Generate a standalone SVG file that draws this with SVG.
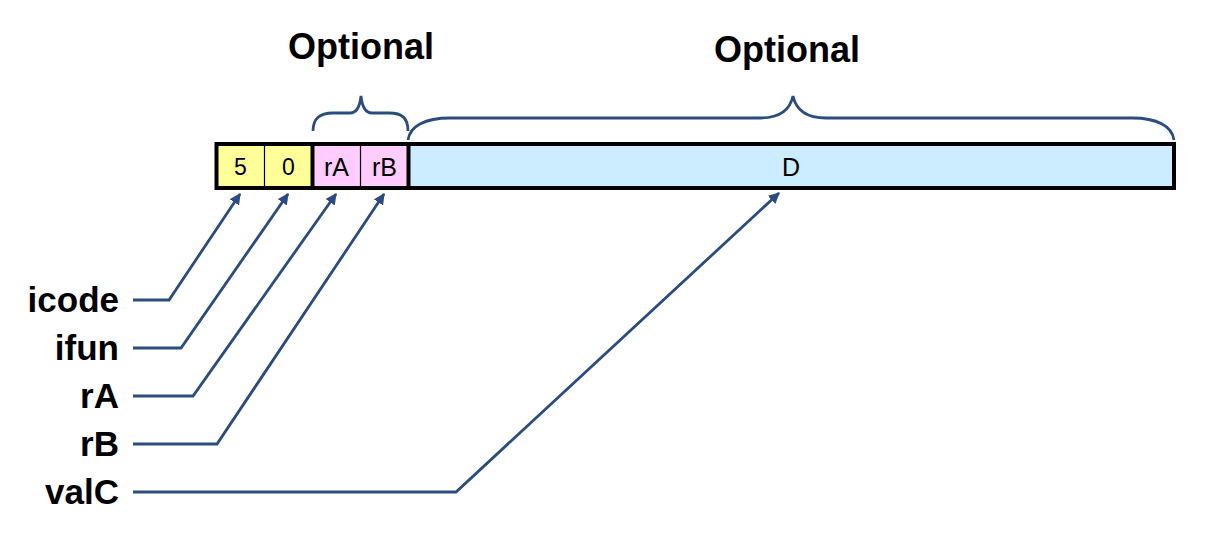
<svg xmlns="http://www.w3.org/2000/svg" width="1207" height="544" viewBox="0 0 1207 544">
<defs>
<style>
.lbl{font-family:"Liberation Sans",Arial,sans-serif;font-weight:bold;font-size:35px;fill:#000;}
.ttl{font-family:"Liberation Sans",Arial,sans-serif;font-weight:bold;font-size:36px;fill:#000;text-anchor:middle;}
.cell{font-family:"Liberation Sans",Arial,sans-serif;font-size:25px;fill:#000;text-anchor:middle;}
.conn{fill:none;stroke:#2B4C7E;stroke-width:2.8;stroke-linejoin:miter;}
.brace{fill:none;stroke:#2B4C7E;stroke-width:2.8;}
.thin{stroke:#000;stroke-width:1.2;}
.thick{stroke:#000;stroke-width:4;}
</style>
<marker id="arr" viewBox="0 0 10 10" refX="9" refY="5" markerWidth="4" markerHeight="4" orient="auto" markerUnits="strokeWidth">
<path d="M0,0 L10,5 L0,10 z" fill="#2B4C7E"/>
</marker>
</defs>
<rect width="1207" height="544" fill="#fff"/>
<g id="titles">
<text class="ttl" x="361" y="59">Optional</text>
<text class="ttl" x="787" y="62">Optional</text>
</g>
<g id="braces">
<path class="brace" d="M313,131 C313,118 320,113 333,113 L350,113 C357,113 360,106 361,96 C362,106 365,113 372,113 L389,113 C402,113 408,118 408,131"/>
<path class="brace" d="M408,140 C410,126 425,118 450,118 L760,118 C780,118 790,110 793,96 C796,110 806,118 826,118 L1132,118 C1157,118 1172,126 1174,140"/>
</g>
<g id="instruction">
<rect x="216.5" y="144" width="96" height="44" fill="#FFFF99"/>
<rect x="312.5" y="144" width="96" height="44" fill="#FFCCFF"/>
<rect x="408.5" y="144" width="765.5" height="44" fill="#CCECFF"/>
<line class="thin" x1="264.5" y1="144" x2="264.5" y2="188"/>
<line class="thin" x1="360.5" y1="144" x2="360.5" y2="188"/>
<line class="thick" x1="312.5" y1="144" x2="312.5" y2="188"/>
<line class="thick" x1="408.5" y1="144" x2="408.5" y2="188"/>
<rect x="216.5" y="144" width="957.5" height="44" fill="none" stroke="#000" stroke-width="4"/>
<g id="cell-icode"><text class="cell" x="240.5" y="175" fill="#333" style="font-size:23px">5</text></g>
<g id="cell-ifun"><text class="cell" x="288.5" y="175" fill="#333" style="font-size:23px">0</text></g>
<g id="cell-rA"><text class="cell" x="336.5" y="176">rA</text></g>
<g id="cell-rB"><text class="cell" x="384.5" y="176">rB</text></g>
<g id="cell-D"><text class="cell" x="791" y="176">D</text></g>
</g>
<g id="labels">
<text class="lbl" x="119" y="312" text-anchor="end">icode</text>
<text class="lbl" x="119" y="360" text-anchor="end">ifun</text>
<text class="lbl" x="119" y="408" text-anchor="end">rA</text>
<text class="lbl" x="119" y="456" text-anchor="end">rB</text>
<text class="lbl" x="119" y="504" text-anchor="end">valC</text>
</g>
<g id="connectors">
<polyline class="conn" points="133,300 169,300 240,194" marker-end="url(#arr)"/>
<polyline class="conn" points="133,348 181,348 288,194" marker-end="url(#arr)"/>
<polyline class="conn" points="133,396 193,396 336,194" marker-end="url(#arr)"/>
<polyline class="conn" points="133,444 217,444 384,194" marker-end="url(#arr)"/>
<polyline class="conn" points="133,492 456,492 779,193" marker-end="url(#arr)"/>
</g>
</svg>
